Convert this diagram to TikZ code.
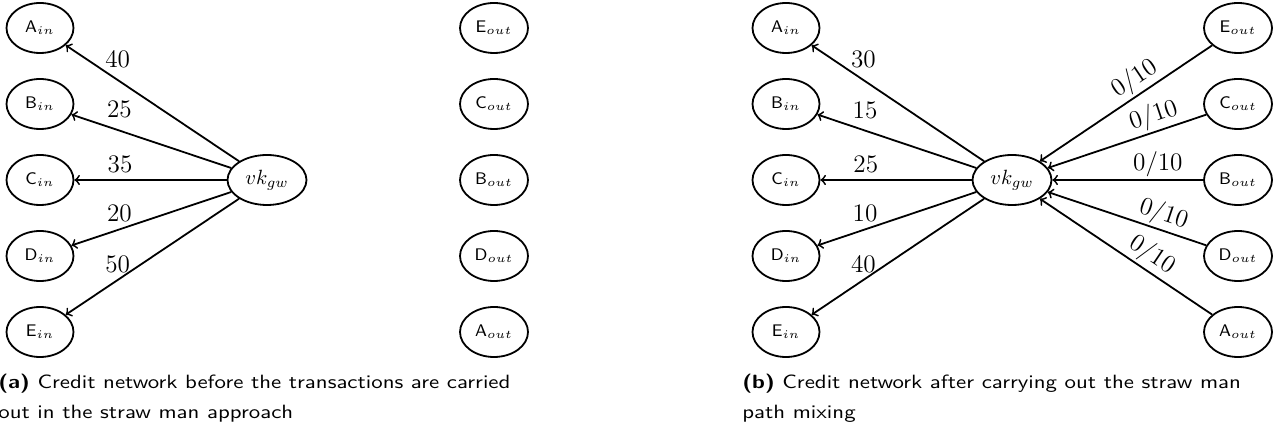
\RequirePackage{fix-cm}
\documentclass[tikz,border=0pt]{standalone}
\usepackage{fontspec}
\newfontfamily\capfont[FakeStretch=1.19,BoldFont=lmsans10-bold.otf,BoldFeatures={FakeStretch=1.19}]{lmsans10-regular.otf}
\usetikzlibrary{shapes.geometric}
\begin{document}
\begin{tikzpicture}[x=0.5pt,y=-0.5pt,
  nd/.style={draw, ellipse, line width=0.9pt, inner sep=0pt, minimum height=25pt},
  innode/.style={nd, minimum width=33.5pt, font=\fontsize{8.4}{10}\selectfont},
  outnode/.style={nd, minimum width=34pt, font=\fontsize{8.4}{10}\selectfont},
  gwnode/.style={nd, minimum width=39.5pt, font=\fontsize{10.3}{12}\selectfont},
  edg/.style={->, line width=0.9pt},
  lab/.style={font=\fontsize{12.6}{14}\selectfont, above, pos=0.7},
  uplab/.style={lab, yshift=2.5pt},
  slab/.style={font=\fontsize{12.6}{14}\selectfont, sloped, above, inner sep=1pt},
  captext/.style={anchor=north west, inner sep=0pt, align=left, font=\capfont\fontsize{9.6}{15}\selectfont}]
\useasboundingbox (0,0) rectangle (1274,426);
% ---------- (a) ----------
\node[innode] (aA) at (40,28) {$\mathsf{A}_{in}$};
\node[innode] (aB) at (40,104) {$\mathsf{B}_{in}$};
\node[innode] (aC) at (40,180) {$\mathsf{C}_{in}$};
\node[innode] (aD) at (40,256) {$\mathsf{D}_{in}$};
\node[innode] (aE) at (40,332) {$\mathsf{E}_{in}$};
\node[gwnode] (avk) at (267,180) {$vk_{gw}$};
\node[outnode] (aEo) at (494,28) {$\mathsf{E}_{out}$};
\node[outnode] (aCo) at (494,104) {$\mathsf{C}_{out}$};
\node[outnode] (aBo) at (494,180) {$\mathsf{B}_{out}$};
\node[outnode] (aDo) at (494,256) {$\mathsf{D}_{out}$};
\node[outnode] (aAo) at (494,332) {$\mathsf{A}_{out}$};
\draw[edg] (avk) -- node[uplab] {$40$} (aA);
\draw[edg] (avk) -- node[uplab] {$25$} (aB);
\draw[edg] (avk) -- node[lab] {$35$} (aC);
\draw[edg] (avk) -- node[lab] {$20$} (aD);
\draw[edg] (avk) -- node[lab] {$50$} (aE);
\node[captext] (capa) at (-2,373.6) {\textbf{(a)} Credit network before the transactions are carried\\out in the straw man approach};
% ---------- (b) ----------
\node[innode] (bA) at (786,28) {$\mathsf{A}_{in}$};
\node[innode] (bB) at (786,104) {$\mathsf{B}_{in}$};
\node[innode] (bC) at (786,180) {$\mathsf{C}_{in}$};
\node[innode] (bD) at (786,256) {$\mathsf{D}_{in}$};
\node[innode] (bE) at (786,332) {$\mathsf{E}_{in}$};
\node[gwnode] (bvk) at (1012,180) {$vk_{gw}$};
\node[outnode] (bEo) at (1238,28) {$\mathsf{E}_{out}$};
\node[outnode] (bCo) at (1238,104) {$\mathsf{C}_{out}$};
\node[outnode] (bBo) at (1238,180) {$\mathsf{B}_{out}$};
\node[outnode] (bDo) at (1238,256) {$\mathsf{D}_{out}$};
\node[outnode] (bAo) at (1238,332) {$\mathsf{A}_{out}$};
\draw[edg] (bvk) -- node[uplab] {$30$} (bA);
\draw[edg] (bvk) -- node[uplab] {$15$} (bB);
\draw[edg] (bvk) -- node[lab] {$25$} (bC);
\draw[edg] (bvk) -- node[lab] {$10$} (bD);
\draw[edg] (bvk) -- node[lab] {$40$} (bE);
\draw[edg] (bEo) -- node[slab, pos=0.4] {$0/10$} (bvk);
\draw[edg] (bCo) -- node[slab, pos=0.3] {$0/10$} (bvk);
\draw[edg] (bBo) -- node[slab, pos=0.3] {$0/10$} (bvk);
\draw[edg] (bDo) -- node[slab, pos=0.3] {$0/10$} (bvk);
\draw[edg] (bAo) -- node[slab, pos=0.4] {$0/10$} (bvk);
\node[captext] (capb) at (742,373.6) {\textbf{(b)} Credit network after carrying out the straw man\\path mixing};
\end{tikzpicture}
\end{document}
